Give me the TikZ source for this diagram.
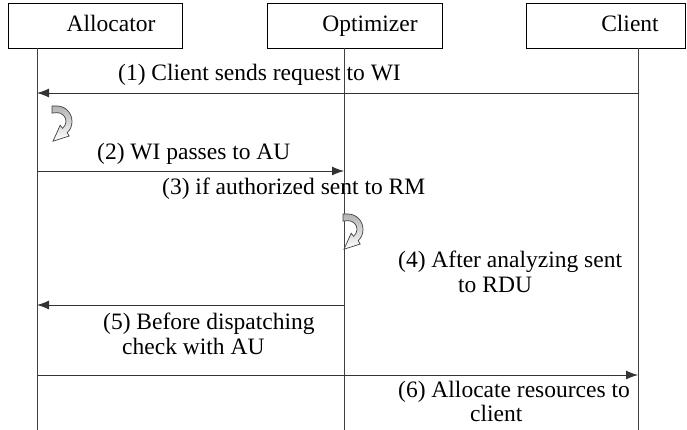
\documentclass[tikz,border=0pt]{standalone}
\usepackage{fontspec}
\setmainfont{Liberation Serif}
\usetikzlibrary{arrows.meta}
\begin{document}
\begin{tikzpicture}[x=1pt,y=-1pt,
  box/.style={draw=black,line width=0.9pt,minimum width=#1,minimum height=45pt,inner sep=0pt},
  lbl/.style={inner sep=0pt,anchor=base west,font=\fontsize{23.5}{25}\selectfont,text=black},
  head/.style={inner sep=0pt,anchor=base,font=\fontsize{23.5}{25}\selectfont},
  life/.style={draw=black!75,line width=0.8pt},
  msg/.style={draw=black!80,line width=0.9pt,-{Latex[length=12pt,width=9pt]}},
  turn/.style={draw=black!75,line width=0.7pt,top color=black!30,bottom color=white}
]
\useasboundingbox (0,0) rectangle (687,430);
% boxes
\node[box=174pt] (allocbox) at (95,25.5) {};
\node[box=175pt] (optbox) at (354.5,25.5) {};
\node[box=159pt] (clientbox) at (606,25.5) {};
\node[head] (alloct) at (111,32) {Allocator};
\node[head] (optt) at (370,32) {Optimizer};
\node[head] (clientt) at (630,32) {Client};
% lifelines
\coordinate (la) at (37,48);
\coordinate (lo) at (344,48);
\coordinate (lc) at (638,48);
\coordinate (ea) at (37,430);
\coordinate (eo) at (344,430);
\coordinate (ec) at (638,430);
\draw[life] (la) -- (ea);
\draw[life] (lo) -- (eo);
\draw[life] (lc) -- (ec);
% messages
\draw[msg] (lc |- 0,93) -- (la |- 0,93);
\draw[msg] (la |- 0,171) -- (lo |- 0,171);
\draw[msg] (lo |- 0,305) -- (la |- 0,305);
\draw[msg] (la |- 0,375) -- (lc |- 0,375);
% labels
\node[lbl] (m1) at (118,81) {(1) Client sends request to WI};
\node[lbl] (m2) at (97,160) {(2) WI passes to AU};
\node[lbl] (m3) at (162,195) {(3) if authorized sent to RM};
\node[lbl] (m4a) at (398,267) {(4) After analyzing sent};
\node[lbl] (m4b) at (458,292) {to RDU};
\node[lbl] (m5a) at (103,329) {(5) Before dispatching};
\node[lbl] (m5b) at (122,354) {check with AU};
\node[lbl] (m6a) at (398,397) {(6) Allocate resources to};
\node[lbl] (m6b) at (470,421) {client};
% self-turn icons
\foreach \ox/\oy in {52/106, 343/214}{
  \begin{scope}[shift={(\ox,\oy)},yscale=1.1]
    \path[turn] (0,0) -- (5,0) .. controls (13.3,0) and (20,6.3) .. (20,14)
      .. controls (20,18) and (18.5,21.5) .. (15.2,24.2)
      -- (17.2,27.3) -- (1,32) -- (8.2,17.5) -- (10.6,20.3)
      .. controls (12.8,18.5) and (14,16.3) .. (14,14)
      .. controls (14,9.6) and (10,6) .. (5,6) -- (0,6.5) -- cycle;
  \end{scope}
}
\end{tikzpicture}
\end{document}
